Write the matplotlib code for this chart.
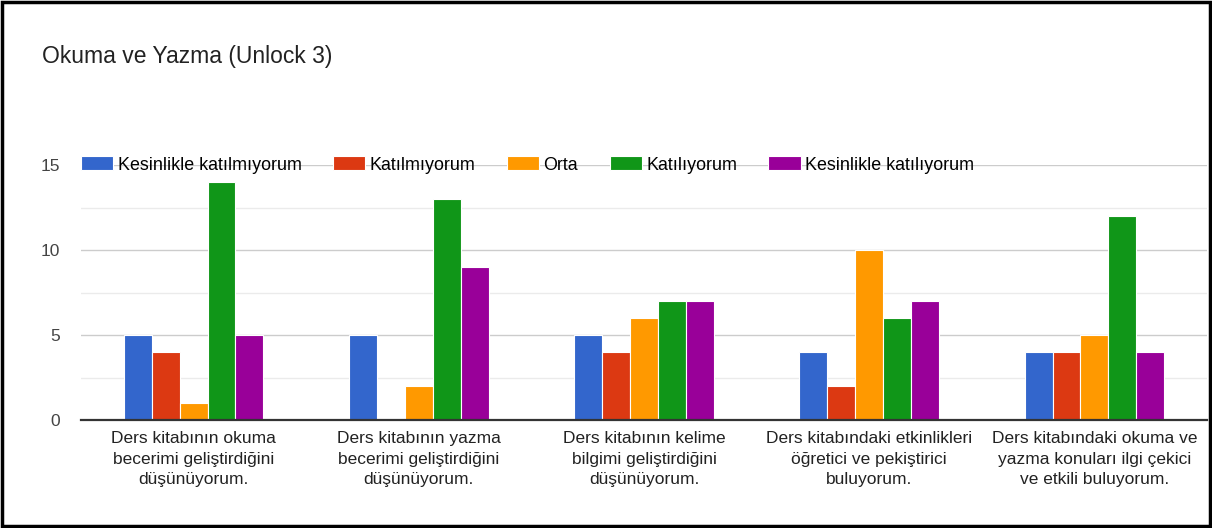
import numpy as np
import matplotlib
matplotlib.use('Agg')
from matplotlib import pyplot as plt
from matplotlib.patches import Rectangle

plt.rcParams['font.family'] = ['Liberation Sans', 'DejaVu Sans']

# veriler
categories = [
    'Ders kitabının okuma\nbecerimi geliştirdiğini\ndüşünüyorum.',
    'Ders kitabının yazma\nbecerimi geliştirdiğini\ndüşünüyorum.',
    'Ders kitabının kelime\nbilgimi geliştirdiğini\ndüşünüyorum.',
    'Ders kitabındaki etkinlikleri\nöğretici ve pekiştirici\nbuluyorum.',
    'Ders kitabındaki okuma ve\nyazma konuları ilgi çekici\nve etkili buluyorum.',
]
series_names = ['Kesinlikle katılmıyorum', 'Katılmıyorum', 'Orta',
                'Katılıyorum', 'Kesinlikle katılıyorum']
kesinlikle_katilmiyorum = [5, 5, 5, 4, 4]
katilmiyorum = [4, 0, 4, 2, 4]
orta = [1, 2, 6, 10, 5]
katiliyorum = [14, 13, 7, 6, 12]
kesinlikle_katiliyorum = [5, 9, 7, 7, 4]
colors = ['#3366cc', '#dc3912', '#ff9900', '#109618', '#990099']

series = [kesinlikle_katilmiyorum, katilmiyorum, orta, katiliyorum, kesinlikle_katiliyorum]

fig = plt.figure(figsize=(12.12, 5.28), dpi=100)
ax = fig.add_axes([81 / 1212, 108 / 528, 1126 / 1212, 255 / 528])

x = np.arange(len(categories))
w = 0.124
for i, (vals, name, c) in enumerate(zip(series, series_names, colors)):
    ax.bar(x + (i - 2) * w, vals, w, color=c, edgecolor='white', linewidth=0.8,
           label=name, zorder=3)

ax.set_xlim(-0.5, 4.5)
ax.set_ylim(0, 15)
ax.set_yticks([0, 5, 10, 15])
ax.set_yticks([2.5, 7.5, 12.5], minor=True)
ax.grid(axis='y', which='major', color='#cccccc', linewidth=1, zorder=0)
ax.grid(axis='y', which='minor', color='#ebebeb', linewidth=1, zorder=0)
ax.set_xticks(x)
ax.set_xticklabels(categories, fontsize=12.5, color='#222222', linespacing=1.45)
ax.tick_params(axis='x', length=0, pad=8)
ax.tick_params(axis='y', which='both', length=0, pad=15, labelsize=12.5, labelcolor='#444444')
for s in ['top', 'right', 'left']:
    ax.spines[s].set_visible(False)
ax.spines['bottom'].set_color('#333333')
ax.spines['bottom'].set_linewidth(1.6)
ax.spines['bottom'].set_zorder(4)

ax.legend(loc='center left', bbox_to_anchor=(0, 1.0), ncol=5, frameon=False,
          fontsize=12.9, handlelength=1.8, handleheight=0.8, handletextpad=0.25,
          columnspacing=1.75, borderpad=0, borderaxespad=0)

fig.text(42 / 1212, 1 - 57 / 528, 'Okuma ve Yazma (Unlock 3)', fontsize=16.5,
         color='#222222', va='center', ha='left')

fig.patches.append(Rectangle((0.002, 0.003), 0.996, 0.994, transform=fig.transFigure,
                             fill=False, edgecolor='black', linewidth=2.5))

fig.savefig('out.png', dpi=100)
